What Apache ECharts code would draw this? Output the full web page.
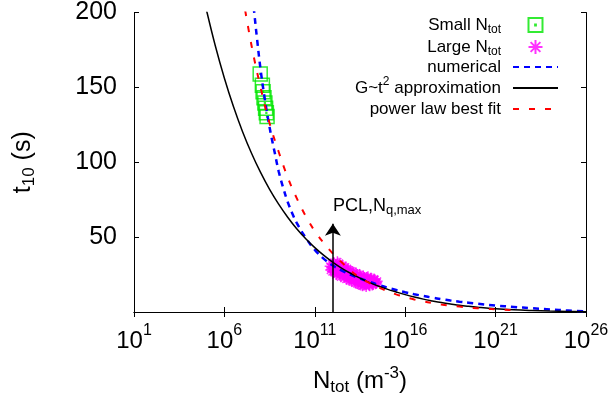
<!DOCTYPE html>
<html><head><meta charset="utf-8">
<script src="https://cdn.jsdelivr.net/npm/echarts@6/dist/echarts.min.js"></script>
<style>html,body{margin:0;padding:0;background:#fff}#c{width:614px;height:403px}</style>
</head><body><div id="c"></div>
<script>
// All x values are log10(N_tot / m^-3); y values are t10 in seconds.
const xTickExponents = [1, 6, 11, 16, 21, 26];
const yTicks = [50, 100, 150, 200];

const smallLogN = [7.98, 8.10, 8.14, 8.19, 8.24, 8.28, 8.32, 8.36];
const smallT    = [159, 151.5, 147, 143, 139.5, 136, 133, 130.5];

const largeLogN = [
  11.85, 11.88,
  11.95, 11.97, 11.93,
  12.05, 12.02, 12.08, 12.04,
  12.15, 12.12, 12.18,
  12.25, 12.22, 12.28, 12.24,
  12.35, 12.32, 12.38, 12.34,
  12.45, 12.42, 12.48, 12.44,
  12.55, 12.52, 12.58, 12.54,
  12.65, 12.62, 12.68, 12.64,
  12.75, 12.72, 12.78, 12.74,
  12.85, 12.82, 12.88, 12.84,
  12.95, 12.92, 12.98, 12.94,
  13.05, 13.02, 13.08, 13.04,
  13.15, 13.12, 13.18, 13.14,
  13.25, 13.22, 13.28, 13.24,
  13.35, 13.32, 13.38, 13.34,
  13.45, 13.42, 13.48, 13.44,
  13.55, 13.52, 13.58, 13.54,
  13.65, 13.62, 13.68, 13.64,
  13.75, 13.72, 13.78, 13.74,
  13.85, 13.82, 13.88, 13.84,
  13.95, 13.92, 13.98, 13.94,
  14.05, 14.02, 14.08, 14.04,
  14.15, 14.12, 14.18, 14.14,
  14.25, 14.22, 14.28, 14.24,
  14.35, 14.32, 14.38,
  14.45, 14.42
];
const largeT = [
  30.5, 28,
  32, 27, 29.5,
  33, 30, 26.5, 28.5,
  31.5, 27.5, 25,
  33.5, 29, 26, 30.5,
  31, 27.5, 24.5, 32.5,
  29.5, 26, 28, 23.5,
  31, 27, 24.5, 29,
  28.5, 25.5, 30, 23,
  27, 24, 29, 22,
  28, 25, 22.5, 26.5,
  26, 23.5, 27.5, 21,
  25, 22, 27, 20.5,
  26, 23, 21, 24.5,
  24, 22, 26, 19.5,
  25, 21.5, 23.5, 19,
  23, 20.5, 25, 18.5,
  24, 21, 22.5, 18,
  22, 19.5, 24, 17.5,
  23, 20, 21.5, 18,
  21.5, 19, 23, 17,
  22, 20, 18, 23.5,
  21, 19, 22.5, 17.5,
  22, 20, 18, 21,
  21, 19.5, 22, 18.5,
  20, 21.5, 19,
  20.5, 19.5
];

const numericalLogN = [7.55, 7.65, 7.8, 8.0, 8.2, 8.4, 8.6, 8.8, 9.0, 9.25, 9.5, 9.75, 10.0, 10.5, 11.0, 11.5, 12.0, 12.5, 13.0, 13.5, 14.0, 14.5, 15.0, 15.5, 16.0, 16.5, 17.0, 17.5, 18.0, 18.5, 19.0, 19.5, 20.0, 21.0, 22.0, 23.0, 24.0, 25.0, 26.0];
const numericalT    = [211, 200, 183, 162, 145, 130, 117, 105.5, 94, 83, 73.5, 66, 59.5, 49.5, 41.5, 35.5, 31, 27.6, 24.8, 22.4, 20.3, 18.2, 16.3, 14.7, 13.2, 11.9, 10.7, 9.6, 8.6, 7.7, 6.9, 6.2, 5.5, 4.3, 3.4, 2.5, 1.7, 1.0, 0.4];

const approxLogN = [4.8, 5.0, 5.5, 6.0, 6.5, 7.0, 7.5, 8.0, 8.5, 9.0, 9.5, 10.0, 10.5, 11.0, 11.5, 12.0, 12.5, 13.0, 13.5, 14.0, 14.5, 15.0, 15.5, 16.0, 16.5, 17.0, 17.5, 18.0, 18.5, 19.0, 19.5, 20.0, 21.0, 22.0, 23.0, 24.0, 25.0, 26.0];
const approxT    = [213, 202, 177.6, 156.1, 137.2, 120.6, 106, 93.2, 81.9, 72, 63.3, 55.6, 48.9, 43, 37.8, 33.2, 29.2, 25.7, 22.6, 19.8, 17.4, 15.3, 13.4, 11.6, 10, 8.6, 7.4, 6.3, 5.4, 4.5, 3.8, 3.2, 2.2, 1.5, 1.0, 0.6, 0.35, 0.2];

const fitLogN = [7.0, 7.5, 8.0, 8.5, 9.0, 9.5, 10.0, 10.5, 11.0, 11.5, 12.0, 12.5, 13.0, 13.5, 14.0, 14.5, 15.0, 15.5, 16.0, 16.5, 17.0, 17.5, 18.0, 18.5, 19.0, 19.5, 20.0, 20.5, 21.0, 21.5, 22.0, 22.3];
const fitT    = [212, 178, 150, 126, 107, 90, 76, 64, 54, 46, 39, 33, 27.5, 23, 19.5, 16.5, 14, 11.8, 10, 8.4, 7.1, 6, 5, 4.2, 3.6, 3, 2.5, 2.1, 1.8, 1.5, 1.3, 1.2];

const pclLogN = 12;
const pclArrowTopT = 59;

const seriesNames = ['Small Ntot', 'Large Ntot', 'numerical', 'G~t2 approximation', 'power law best fit'];
const legendLabels = ['Small N{sub|tot}', 'Large N{sub|tot}', 'numerical', 'G~t{sup|2} approximation', 'power law best fit'];

const FONT = '"Liberation Sans", Arial, Helvetica, sans-serif';
const zip = (xs, ys) => xs.map((x, i) => [x, ys[i]]);

const chart = echarts.init(document.getElementById('c'), null, {renderer: 'canvas'});

const squarePath = 'path://M0,0L14,0L14,14L0,14Z M6.6,6.6L7.4,6.6L7.4,7.4L6.6,7.4Z';
const starPath = 'path://M5,0L5,10M0,5L10,5M1.5,1.5L8.5,8.5M8.5,1.5L1.5,8.5';

const axisLineStyle = {color: '#000', width: 1};

chart.setOption({
  animation: false,
  backgroundColor: '#fff',
  grid: {left: 129, right: 28, top: 11, bottom: 91, containLabel: false},
  legend: {
    data: seriesNames.map((n, i) => i < 2 ? {name: n} : {name: n, itemStyle: {opacity: 0}}),
    orient: 'vertical',
    right: 55,
    top: 14,
    padding: 0,
    itemGap: 0,
    itemWidth: 45,
    itemHeight: 14,
    align: 'right',
    selectedMode: false,
    formatter: name => legendLabels[seriesNames.indexOf(name)],
    textStyle: {
      fontFamily: FONT, fontSize: 17, lineHeight: 18, color: '#000', padding: [0, 7, 0, 0],
      rich: {
        sub: {fontFamily: FONT, fontSize: 12, lineHeight: 18, color: '#000', padding: [10, 0, 0, 0]},
        sup: {fontFamily: FONT, fontSize: 12, lineHeight: 18, color: '#000', padding: [0, 0, 12, 0]}
      }
    }
  },
  xAxis: [{
    type: 'value', min: xTickExponents[0], max: xTickExponents[xTickExponents.length - 1], interval: 5,
    position: 'bottom',
    axisLine: {show: true, lineStyle: axisLineStyle},
    axisTick: {show: true, inside: true, length: 5, lineStyle: axisLineStyle},
    splitLine: {show: false},
    axisLabel: {
      margin: 16,
      formatter: v => xTickExponents.includes(v) ? '{b|10}{sup|' + v + '}' : '',
      rich: {
        b: {fontFamily: FONT, fontSize: 24, lineHeight: 26, color: '#000'},
        sup: {fontFamily: FONT, fontSize: 16, lineHeight: 26, color: '#000', padding: [0, 0, 21, 0]}
      }
    },
    name: 'N{sub|tot} (m{sup|-3})',
    nameLocation: 'middle',
    nameGap: 50,
    nameTextStyle: {
      fontFamily: FONT, fontSize: 24, lineHeight: 30, color: '#000',
      rich: {
        sub: {fontFamily: FONT, fontSize: 17, lineHeight: 30, color: '#000', padding: [12, 0, 0, 0]},
        sup: {fontFamily: FONT, fontSize: 17, lineHeight: 30, color: '#000', padding: [0, 0, 16, 0]}
      }
    }
  }, {
    type: 'value', min: xTickExponents[0], max: xTickExponents[xTickExponents.length - 1], interval: 5,
    position: 'top',
    axisLine: {show: true, lineStyle: axisLineStyle},
    axisTick: {show: true, inside: true, length: 5, lineStyle: axisLineStyle},
    splitLine: {show: false},
    axisLabel: {show: false}
  }],
  yAxis: [{
    type: 'value', min: 0, max: yTicks[yTicks.length - 1], interval: 50,
    position: 'left',
    axisLine: {show: true, lineStyle: axisLineStyle},
    axisTick: {show: true, inside: true, length: 5, lineStyle: axisLineStyle},
    splitLine: {show: false},
    axisLabel: {
      margin: 17, fontFamily: FONT, fontSize: 25, color: '#000',
      formatter: v => yTicks.includes(v) ? String(v) : ''
    },
    name: 't{sub|10} (s)',
    nameLocation: 'middle',
    nameRotate: 90,
    nameGap: 96,
    nameTextStyle: {
      fontFamily: FONT, fontSize: 25, lineHeight: 30, color: '#000',
      rich: {
        sub: {fontFamily: FONT, fontSize: 17, lineHeight: 30, color: '#000', padding: [12, 0, 0, 0]}
      }
    }
  }, {
    type: 'value', min: 0, max: yTicks[yTicks.length - 1], interval: 50,
    position: 'right',
    axisLine: {show: true, lineStyle: axisLineStyle},
    axisTick: {show: true, inside: true, length: 5, lineStyle: axisLineStyle},
    splitLine: {show: false},
    axisLabel: {show: false}
  }],
  series: [{
    name: seriesNames[0], type: 'scatter',
    data: zip(smallLogN, smallT),
    symbol: squarePath, symbolSize: 14, symbolKeepAspect: true,
    itemStyle: {color: 'rgba(0,0,0,0)', borderColor: '#00e600', borderWidth: 1.5},
    emphasis: {disabled: true}, silent: true
  }, {
    name: seriesNames[1], type: 'scatter',
    data: zip(largeLogN, largeT),
    symbol: starPath, symbolSize: 11, symbolKeepAspect: true,
    itemStyle: {color: 'rgba(0,0,0,0)', borderColor: '#ff00ff', borderWidth: 1.5},
    emphasis: {disabled: true}, silent: true
  }, {
    name: seriesNames[2], type: 'line',
    data: zip(numericalLogN, numericalT),
    symbol: 'none', showSymbol: false, smooth: 0.4,
    lineStyle: {color: '#0000ff', width: 2.5, type: [6, 5]},
    itemStyle: {color: '#0000ff'},
    emphasis: {disabled: true}, silent: true
  }, {
    name: seriesNames[3], type: 'line',
    data: zip(approxLogN, approxT),
    symbol: 'none', showSymbol: false, smooth: 0.4,
    lineStyle: {color: '#000', width: 1.5, type: 'solid'},
    itemStyle: {color: '#000'},
    emphasis: {disabled: true}, silent: true,
    markLine: {
      silent: true, animation: false,
      symbol: ['none', 'arrow'], symbolSize: 12,
      lineStyle: {color: '#000', width: 1.5, type: 'solid'},
      label: {
        show: true, position: 'end', align: 'left', distance: 8,
        formatter: '{b|PCL,N}{sub|q,max}',
        rich: {
          b: {fontFamily: FONT, fontSize: 18, lineHeight: 20, color: '#000'},
          sub: {fontFamily: FONT, fontSize: 13, lineHeight: 20, color: '#000', padding: [10, 0, 0, 0]}
        }
      },
      data: [[{coord: [pclLogN, 0]}, {coord: [pclLogN, pclArrowTopT]}]]
    }
  }, {
    name: seriesNames[4], type: 'line',
    data: zip(fitLogN, fitT),
    symbol: 'none', showSymbol: false, smooth: 0.4,
    lineStyle: {color: '#ff0000', width: 2, type: [6, 10]},
    itemStyle: {color: '#ff0000'},
    emphasis: {disabled: true}, silent: true
  }]
});
</script>
</body></html>
